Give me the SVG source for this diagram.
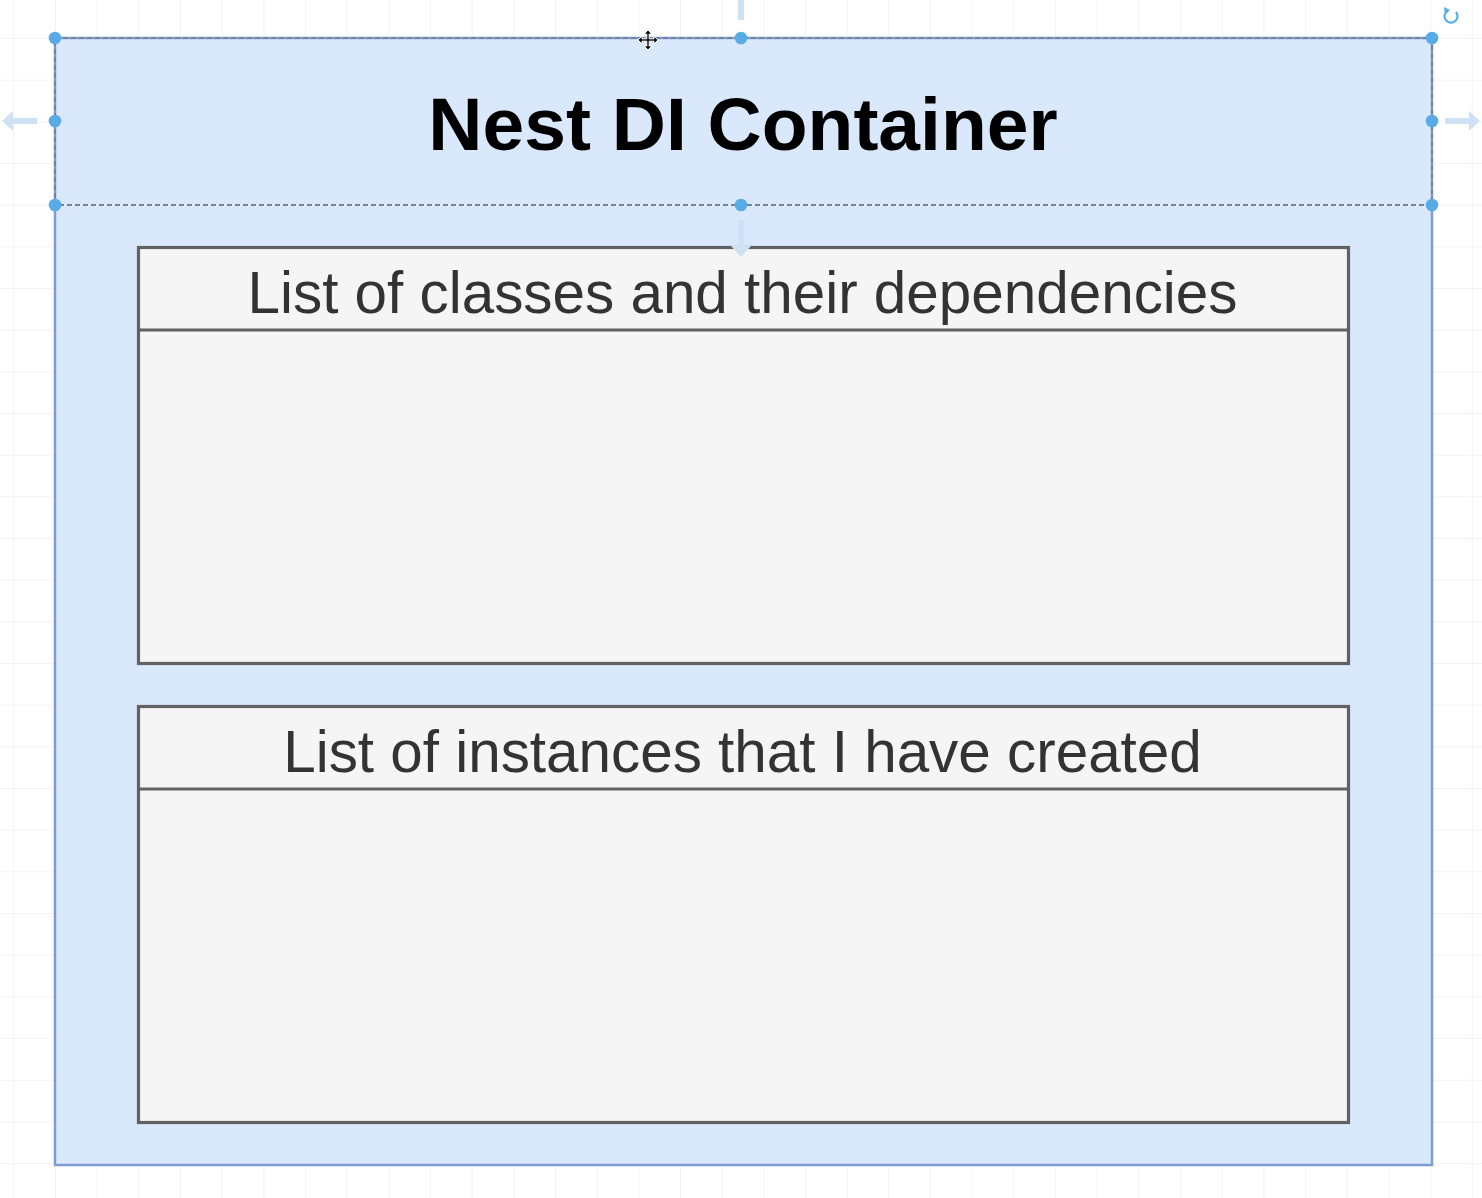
<svg xmlns="http://www.w3.org/2000/svg" width="1482" height="1198" viewBox="0 0 1482 1198">
  <style>
    .container { fill: #dae8fc; stroke: #7f9dcc; stroke-width: 2.5; }
    .box { fill: #f5f5f5; stroke: #616161; stroke-width: 3.2; }
    .sep { stroke: #616161; stroke-width: 3.2; fill: none; }
    .title { font-family: "Liberation Sans", Arial, sans-serif; font-weight: bold; font-size: 75px; fill: #000000; text-anchor: middle; }
    .label { font-family: "Liberation Sans", Arial, sans-serif; font-size: 58.4px; fill: #333333; text-anchor: middle; }
    .selection { fill: none; stroke: #75829c; stroke-width: 2; stroke-dasharray: 5 3; }
    .handle { fill: #58abe5; }
    .hint { fill: #cfe2f5; }
  </style>
  <defs>
    <pattern id="grid" x="13.3" y="-3.7" width="41.67" height="41.67" patternUnits="userSpaceOnUse">
      <path d="M 0 0 L 41.67 0 M 0 0 L 0 41.67" stroke="#efefef" stroke-width="1.5" fill="none"/>
    </pattern>
  </defs>
  <rect x="0" y="0" width="1482" height="1198" fill="#ffffff"/>
  <rect x="0" y="0" width="1482" height="1198" fill="url(#grid)"/>

  <g id="container">
    <rect class="container" x="55" y="38" width="1377" height="1127"/>
    <text class="title" x="743" y="150">Nest DI Container</text>
  </g>

  <g id="classes-list">
    <rect class="box" x="138.5" y="247.5" width="1210" height="416"/>
    <line class="sep" x1="138.5" y1="330" x2="1348.5" y2="330"/>
    <text class="label" x="742.5" y="313">List of classes and their dependencies</text>
  </g>

  <g id="instances-list">
    <rect class="box" x="138.5" y="706.5" width="1210" height="416"/>
    <line class="sep" x1="138.5" y1="789" x2="1348.5" y2="789"/>
    <text class="label" x="742.5" y="772">List of instances that I have created</text>
  </g>

  <g id="connectors"></g>

  <g id="selection">
    <rect class="selection" x="55" y="38" width="1377" height="167"/>
    <circle class="handle" cx="55" cy="38" r="6.3"/>
    <circle class="handle" cx="741" cy="38" r="6.3"/>
    <circle class="handle" cx="1432" cy="38" r="6.3"/>
    <circle class="handle" cx="55" cy="121" r="6.3"/>
    <circle class="handle" cx="1432" cy="121" r="6.3"/>
    <circle class="handle" cx="55" cy="205" r="6.3"/>
    <circle class="handle" cx="741" cy="205" r="6.3"/>
    <circle class="handle" cx="1432" cy="205" r="6.3"/>
    <path class="hint" d="M 2 121 L 13 111 L 13 118 L 37 118 L 37 124 L 13 124 L 13 131 Z"/>
    <path class="hint" d="M 1480 121 L 1469 111 L 1469 118 L 1445 118 L 1445 124 L 1469 124 L 1469 131 Z"/>
    <rect class="hint" x="738" y="0" width="6" height="20"/>
    <path class="hint" d="M 741 257 L 731 246 L 738 246 L 738 220 L 744 220 L 744 246 L 751 246 Z"/>
    <path d="M 1456 12 A 6.5 6.5 0 1 1 1447 11" fill="none" stroke="#5aaee8" stroke-width="2.2"/>
    <path d="M 1444 7 L 1450 10 L 1445 15 Z" fill="#5aaee8"/>
    <g transform="translate(648,40)">
      <path d="M 0 -10 L 4 -6 L 1.2 -6 L 1.2 -1.2 L 6 -1.2 L 6 -4 L 10 0 L 6 4 L 6 1.2 L 1.2 1.2 L 1.2 6 L 4 6 L 0 10 L -4 6 L -1.2 6 L -1.2 1.2 L -6 1.2 L -6 4 L -10 0 L -6 -4 L -6 -1.2 L -1.2 -1.2 L -1.2 -6 L -4 -6 Z" fill="#111111" stroke="#ffffff" stroke-width="1"/>
    </g>
  </g>
</svg>
